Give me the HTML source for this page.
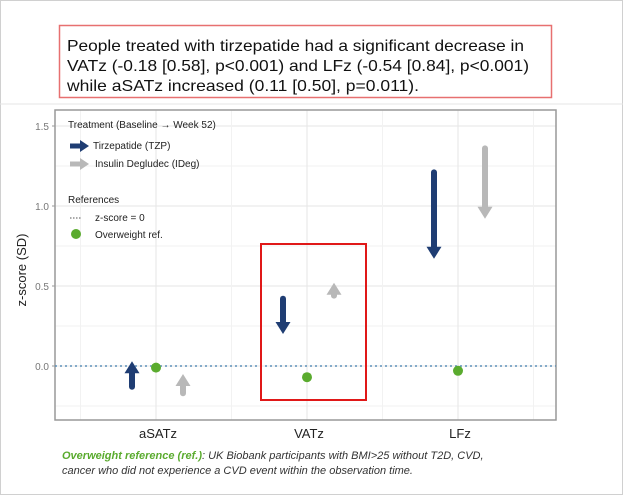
<!DOCTYPE html>
<html><head><meta charset="utf-8"><style>
body{margin:0;background:#fff;}
svg{display:block;font-family:"Liberation Sans",sans-serif;}
</style></head><body>
<svg width="623" height="495" viewBox="0 0 623 495">
<rect x="0.5" y="0.5" width="622" height="494" fill="#fff" stroke="#d0d0d0"/>
<g>
<rect x="59.5" y="25.5" width="492" height="72" fill="#fff" stroke="#e77070" stroke-width="1.5"/>
<text x="67" y="51" font-size="16" fill="#111" textLength="457" lengthAdjust="spacingAndGlyphs">People treated with tirzepatide had a significant decrease in</text>
<text x="67" y="71" font-size="16" fill="#111" textLength="462" lengthAdjust="spacingAndGlyphs">VATz (-0.18 [0.58], p&lt;0.001) and LFz (-0.54 [0.84], p&lt;0.001)</text>
<text x="67" y="91" font-size="16" fill="#111" textLength="352" lengthAdjust="spacingAndGlyphs">while aSATz increased (0.11 [0.50], p=0.011).</text>
</g>
<line x1="0" y1="104" x2="623" y2="104" stroke="#e4e4e4"/>
<g id="plot"></g>
<text transform="translate(26,270) rotate(-90)" text-anchor="middle" font-size="13" fill="#222">z-score (SD)</text>
<g>
<text x="68" y="128" font-size="10" fill="#222">Treatment  (Baseline → Week 52)</text>
<line x1="70" y1="146" x2="82" y2="146" stroke="#1f3d73" stroke-width="5"/>
<polygon points="80,140 89,146 80,152" fill="#1f3d73"/>
<text x="93" y="149" font-size="10" fill="#222">Tirzepatide (TZP)</text>
<line x1="70" y1="164" x2="82" y2="164" stroke="#b8b8b8" stroke-width="5"/>
<polygon points="80,158 89,164 80,170" fill="#b8b8b8"/>
<text x="95" y="167" font-size="10" fill="#222">Insulin Degludec (IDeg)</text>
<text x="68" y="203" font-size="10" fill="#222">References</text>
<line x1="70" y1="218" x2="82" y2="218" stroke="#555" stroke-dasharray="1.5,1.5"/>
<text x="95" y="221" font-size="10" fill="#222">z-score = 0</text>
<circle cx="76" cy="234" r="5" fill="#5aab2e"/>
<text x="95" y="238" font-size="10" fill="#222">Overweight ref.</text>
</g>
<rect x="261" y="244" width="105" height="156" fill="none" stroke="#e01818" stroke-width="2"/>
<text x="62" y="459" font-size="11" font-style="italic" fill="#333"><tspan fill="#5aab2e" font-weight="bold">Overweight reference (ref.)</tspan>: UK Biobank participants with BMI&gt;25 without T2D, CVD,</text>
<text x="62" y="474" font-size="11" font-style="italic" fill="#333">cancer who did not experience a CVD event within the observation time.</text>
</svg>
<script>
const categories = ["aSATz","VATz","LFz"];
const tzpStart = [-0.13, 0.42, 1.21];
const tzpEnd = [0.03, 0.20, 0.67];
const idegStart = [-0.17, 0.44, 1.36];
const idegEnd = [-0.05, 0.52, 0.92];
const refValues = [-0.01, -0.07, -0.03];
const yTicks = [0, 0.5, 1.0, 1.5];
const yTickLabels = ["0.0","0.5","1.0","1.5"];

const NS = "http://www.w3.org/2000/svg";
const L = 55, R = 556, T = 110, B = 420;
const y = v => 366 - v * 160;
const x = i => 156 + i * 151;
const g = document.getElementById("plot");
function mk(tag, attrs, parent) {
  const e = document.createElementNS(NS, tag);
  for (const k in attrs) e.setAttribute(k, attrs[k]);
  (parent || g).appendChild(e);
  return e;
}
for (let v = -0.25; v <= 1.5; v += 0.25) {
  const l = mk("line", {x1: L, x2: R, y1: y(v), y2: y(v), stroke: Math.abs(v*2 - Math.round(v*2)) < 1e-6 ? "#e6e6e6" : "#f2f2f2"});
  
  
}
for (let i = -0.5; i <= 2.5; i += 0.5) {
  const l = mk("line", {x1: x(i), x2: x(i), y1: T, y2: B, stroke: Number.isInteger(i) ? "#e6e6e6" : "#f2f2f2"});
  
  
}
const frame = mk("rect", {x: L, y: T, width: R - L, height: B - T, fill: "none", stroke: "#999", "stroke-width": 1.5});


yTicks.forEach((v, i) => {
  const t = mk("text", {x: L - 6, y: y(v) + 4, "text-anchor": "end", "font-size": 10, fill: "#777"});
  t.textContent = yTickLabels[i];
  
  
  const tk = mk("line", {x1: L - 3, x2: L, y1: y(v), y2: y(v), stroke: "#999"});
  
  
});
categories.forEach((c, i) => {
  const t = mk("text", {x: x(i) + 2, y: B + 18, "text-anchor": "middle", "font-size": 13, fill: "#222"});
  t.textContent = c;
  
  
});
const zl = mk("line", {x1: L, x2: R, y1: y(0), y2: y(0), stroke: "#5b8fb8", "stroke-width": 1.5, "stroke-dasharray": "2,3"});



function arrow(cx, s, e, color, name) {
  const ys = y(s), ye = y(e), dir = ye > ys ? 1 : -1;
  const grp = mk("g", {});
  
  
  mk("line", {x1: cx, x2: cx, y1: ys, y2: ye - dir * 9, stroke: color, "stroke-width": 6, "stroke-linecap": "round"}, grp);
  mk("polygon", {points: `${cx-7.5},${ye - dir*12} ${cx+7.5},${ye - dir*12} ${cx},${ye}`, fill: color}, grp);
}
categories.forEach((c, i) => {
  arrow(x(i) - 24, tzpStart[i], tzpEnd[i], "#1f3d73", "tzp-arrow-" + c);
  arrow(x(i) + 27, idegStart[i], idegEnd[i], "#b8b8b8", "ideg-arrow-" + c);
  const d = mk("circle", {cx: x(i), cy: y(refValues[i]), r: 5, fill: "#5aab2e"});
  
  
});
</script>
</body></html>
